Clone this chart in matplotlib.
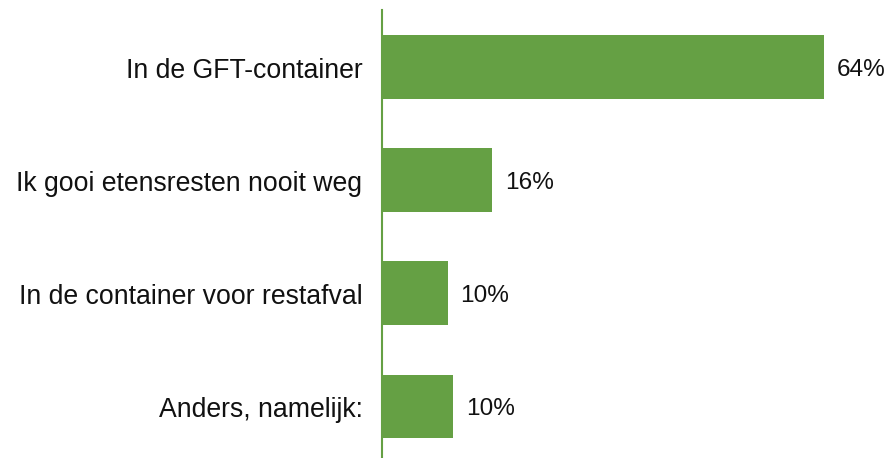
#! /usr/bin/env python

"""
Waar gooi je etensresten weg - horizontal bar chart
"""

import matplotlib
matplotlib.use('Agg')

import matplotlib.pyplot as plt
import matplotlib.transforms as mtransforms

CATEGORIES = ['In de GFT-container', 'Ik gooi etensresten nooit weg',
              'In de container voor restafval', 'Anders, namelijk:']
VALUES = [64.0, 15.9, 9.5, 10.3]
LABELS = ['64%', '16%', '10%', '10%']
GREEN = '#65A044'

plt.rcParams['font.family'] = ['Liberation Sans', 'DejaVu Sans']

fig = plt.figure(figsize=(8.88, 4.58), dpi=100)
ax = fig.add_axes([0.430, 0.0, 0.545, 0.978])

positions = list(range(len(CATEGORIES)))
ax.barh(positions, VALUES, height=0.565, color=GREEN)
for pos, val, lab in zip(positions, VALUES, LABELS):
    ax.annotate(lab, xy=(val, pos), xytext=(9.3, -2), textcoords='offset points',
                va='center', ha='left', fontsize=17.6, color='#111111')

ax.set_xlim(0, 70)
ax.set_ylim(3.455, -0.504)
ax.set_yticks(positions)
ax.set_yticklabels(CATEGORIES, fontsize=19.2, color='#111111', va='center')
ax.tick_params(axis='y', length=0, pad=14)
# nudge the category labels down a little, like the original
shift = mtransforms.ScaledTranslation(0, -2.5 / 72, fig.dpi_scale_trans)
for tick in ax.get_yticklabels():
    tick.set_transform(tick.get_transform() + shift)
ax.set_xticks([])
for side in ['top', 'right', 'bottom']:
    ax.spines[side].set_visible(False)
ax.spines['left'].set_color(GREEN)
ax.spines['left'].set_linewidth(1.5)

fig.savefig('out.png', dpi=100)
